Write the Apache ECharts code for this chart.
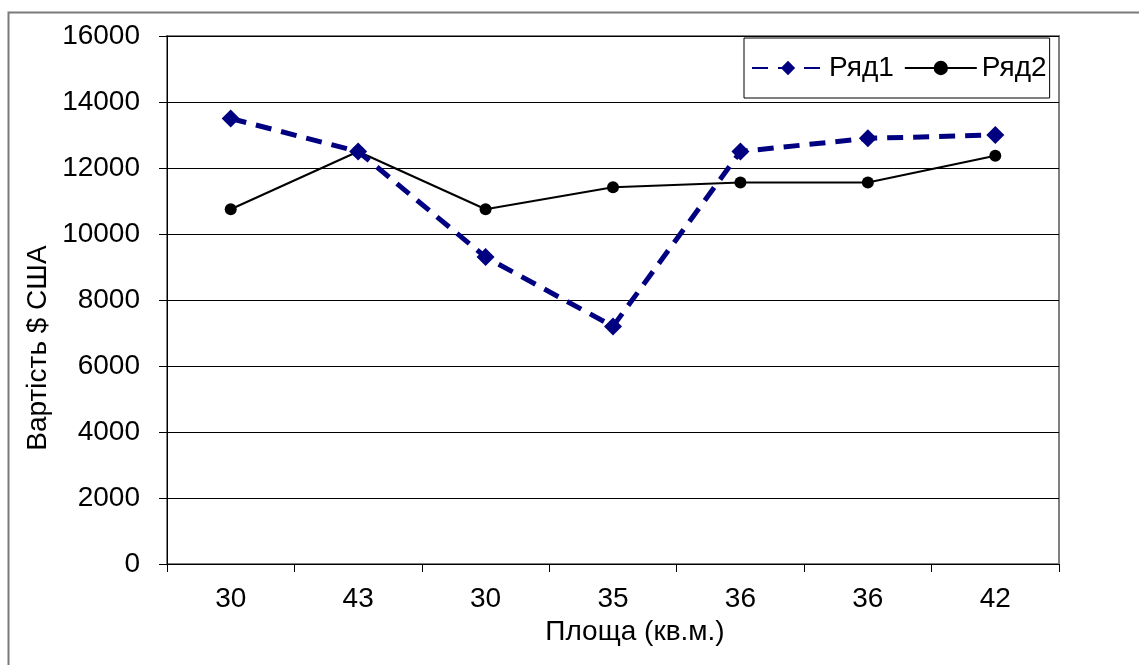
<!DOCTYPE html>
<html>
<head>
<meta charset="utf-8">
<script src="https://cdn.jsdelivr.net/npm/echarts@6/dist/echarts.min.js"></script>
<style>
html,body{margin:0;padding:0;background:#fff;}
#chart{width:1139px;height:665px;}
</style>
</head>
<body>
<div id="chart"></div>
<script>
const categories = ['30', '43', '30', '35', '36', '36', '42'];
const series1 = [13500, 12500, 9300, 7200, 12500, 12900, 13000];
const series2 = [10750, 12500, 10750, 11420, 11560, 11560, 12370];
const yTicks = { min: 0, max: 16000, interval: 2000 };

const font = 'Liberation Sans, Arial, sans-serif';
const fs = 28;
const chart = echarts.init(document.getElementById('chart'));
chart.setOption({
  animation: false,
  backgroundColor: '#fff',
  grid: { left: 167, right: 80, top: 36, bottom: 101, show: true, borderColor: '#808080', borderWidth: 2 },
  graphic: [
    { type: 'rect', shape: { x: 8.5, y: 12.5, width: 1300, height: 800 }, style: { fill: null, stroke: '#7a7a7a', lineWidth: 2 }, silent: true, z: -1 },
    { type: 'text', x: 38, y: 348, rotation: Math.PI / 2, style: { text: 'Вартість $ США', font: fs + 'px ' + font, fill: '#000', align: 'center', verticalAlign: 'middle' } },
    { type: 'text', x: 635, y: 632, style: { text: 'Площа (кв.м.)', font: fs + 'px ' + font, fill: '#000', align: 'center', verticalAlign: 'middle' } }
  ],
  legend: {
    left: 744, top: 38,
    orient: 'horizontal',
    itemWidth: 72, itemHeight: 18, itemGap: 10,
    padding: [16, 3, 16, 7],
    borderColor: '#000', borderWidth: 1, backgroundColor: '#fff',
    textStyle: { fontSize: fs, fontFamily: font, color: '#000' },
    data: ['Ряд1', 'Ряд2']
  },
  xAxis: {
    type: 'category',
    data: categories,
    boundaryGap: true,
    axisLine: { lineStyle: { color: '#000', width: 1 } },
    axisTick: { show: true, inside: false, length: 8, lineStyle: { color: '#000' }, interval: 0 },
    axisLabel: { fontSize: fs, fontFamily: font, color: '#000', margin: 21, interval: 0 },
    splitLine: { show: false }
  },
  yAxis: {
    type: 'value',
    min: yTicks.min, max: yTicks.max, interval: yTicks.interval,
    axisLine: { show: true, lineStyle: { color: '#000', width: 1 } },
    axisTick: { show: true, inside: false, length: 8, lineStyle: { color: '#000' } },
    axisLabel: { fontSize: fs, fontFamily: font, color: '#000', margin: 27, formatter: v => String(v) },
    splitLine: { show: true, lineStyle: { color: '#000', width: 1 } }
  },
  series: [
    {
      name: 'Ряд1', type: 'line', data: series1,
      symbol: 'diamond', symbolSize: 18,
      itemStyle: { color: '#000080' },
      lineStyle: { color: '#000080', width: 5, type: [16, 10] },
      z: 3
    },
    {
      name: 'Ряд2', type: 'line', data: series2,
      symbol: 'circle', symbolSize: 12,
      itemStyle: { color: '#000' },
      lineStyle: { color: '#000', width: 2 },
      z: 2
    }
  ]
});
</script>
</body>
</html>
